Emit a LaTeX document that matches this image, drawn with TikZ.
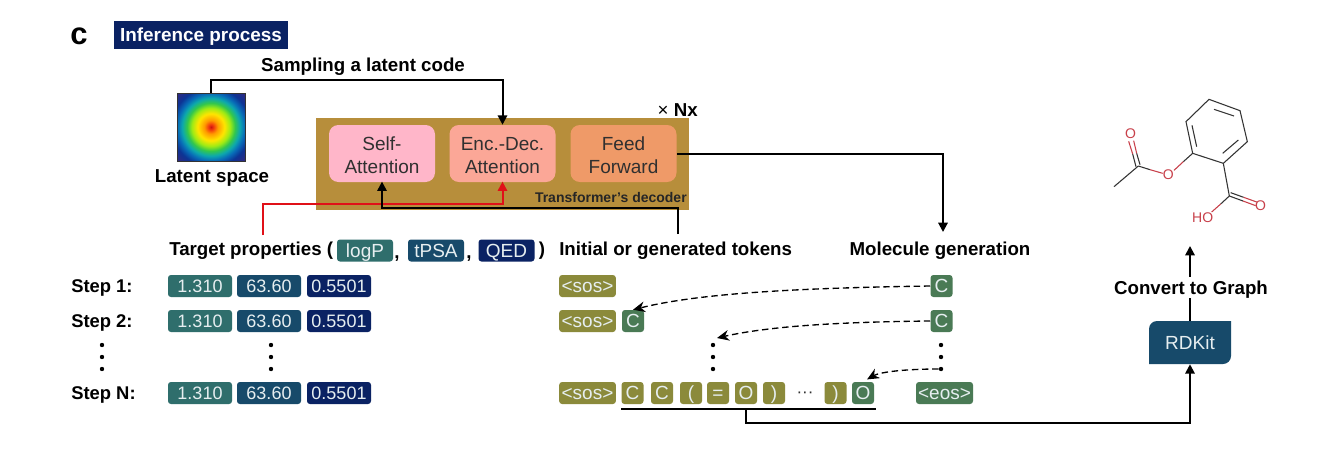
\documentclass[tikz,border=0pt]{standalone}
\usepackage{fontspec}
\setmainfont{Liberation Sans}
\usetikzlibrary{arrows.meta,calc}
\definecolor{navy}{HTML}{0A2263}
\definecolor{teal1}{HTML}{2F6E6C}
\definecolor{blue1}{HTML}{174A6A}
\definecolor{olive1}{HTML}{8B8A3B}
\definecolor{green1}{HTML}{4A7A55}
\definecolor{gold1}{HTML}{B78E3B}
\definecolor{pink1}{HTML}{FFB6C9}
\definecolor{salmon1}{HTML}{FBA797}
\definecolor{orange1}{HTML}{EF9A68}
\definecolor{redl}{HTML}{E01018}
\definecolor{mol}{HTML}{C8404A}
\definecolor{txt}{HTML}{303030}
\definecolor{pilltxt}{HTML}{E6EEF0}
\newcommand{\setpx}[1]{\fontsize{\dimexpr #1pt*3/4\relax}{\dimexpr #1pt*9/10\relax}\selectfont}
\newcommand{\upx}{\rule{0pt}{13pt}}
\pgfdeclareradialshading{jetr}{\pgfpoint{0bp}{0bp}}{%
  rgb(0bp)=(0.80,0.08,0.06);
  rgb(1.5bp)=(0.95,0.25,0.05);
  rgb(3.5bp)=(1,0.60,0);
  rgb(7bp)=(1,0.90,0);
  rgb(10bp)=(0.62,0.92,0.08);
  rgb(12.5bp)=(0.20,0.78,0.30);
  rgb(15bp)=(0.05,0.66,0.68);
  rgb(17.5bp)=(0.03,0.42,0.72);
  rgb(20.5bp)=(0.05,0.20,0.58);
  rgb(25bp)=(0.20,0.16,0.50);
  rgb(50bp)=(0.20,0.16,0.50)}
\tikzset{
  x=0.75pt,y=-0.75pt,
  lbl/.style={font=\setpx{18.7}\bfseries,text=black,inner sep=0pt,text height=10pt,text depth=0pt},
  pill/.style={rounded corners=2.2pt,inner sep=0pt,minimum height=16.5pt,text=pilltxt,font=\setpx{19},text height=10.2pt,text depth=0pt},
  num/.style={pill,font=\setpx{18},text height=9.7pt,minimum width=48pt},
  w22/.style={minimum width=16.5pt},
  w57/.style={minimum width=42.5pt},
  block/.style={rounded corners=7pt,minimum width=79.5pt,minimum height=42.75pt,align=center,text=txt,inner sep=0pt,font=\setpx{19}},
  dotn/.style={circle,fill=black,inner sep=0pt,minimum size=3.3pt},
  conn/.style={draw=black,line width=1.5pt,-{Triangle[length=7pt,width=7pt]}},
  plain/.style={draw=black,line width=1.5pt},
  dash1/.style={draw=black,line width=1pt,dash pattern=on 4.8pt off 2.8pt,-{Stealth[length=9pt,width=8pt]}},
  bond/.style={line width=0.8pt,draw=black!80},
  obond/.style={line width=0.8pt,draw=mol},
}
\begin{document}
\begin{tikzpicture}
\useasboundingbox (0,0) rectangle (1317,450);
\fill[white] (0,0) rectangle (1317,450);
% title
\node[font=\setpx{31}\bfseries,inner sep=0pt] (panel) at (79,36.5) {c};
\node[fill=navy,text=white,font=\setpx{18.9}\bfseries,minimum width=130.5pt,minimum height=21pt,inner sep=0pt,text height=10.2pt,text depth=0pt] (title) at (201,35) {Inference process};
% latent square
\begin{scope}
\clip (177,93) rectangle (245,161);
\shade[shading=jetr] (163,79) rectangle (259,175);
\end{scope}
\node[draw=black!80,line width=0.6pt,minimum size=51pt,inner sep=0pt] (latent) at (211,127) {};
\node[lbl] (latentlbl) at (212,175.5) {Latent space};
\node[lbl] (sampling) at (363,65) {Sampling a latent code};
% decoder
\node[fill=gold1,minimum width=279.75pt,minimum height=69pt,inner sep=0pt] (decoder) at (502.5,164) {};
\node[block,fill=pink1] (self) at (382,153.5) {\upx Self-\\Attention};
\node[block,fill=salmon1] (enc) at (502.5,153.5) {\upx Enc.-Dec.\\Attention};
\node[block,fill=orange1] (feed) at (623.5,153.5) {\upx Feed\\Forward};
\node[font=\setpx{14}\bfseries,text=black!85,inner sep=0pt,anchor=east,text height=7.5pt,text depth=0pt] (declbl) at (687,197.5) {Transformer's decoder};
\node[inner sep=0pt,anchor=east,font=\setpx{18.7},text height=10pt,text depth=0pt] (nx) at (698,109.5) {× \textbf{Nx}};
% headings
\node[lbl,anchor=west] (target) at (169,249) {Target properties (};
\node[pill,fill=teal1,minimum width=42pt] (logp) at (365,250.5) {logP};
\node[lbl] (c1) at (397,252) {,};
\node[pill,fill=blue1,minimum width=42pt] (tpsa) at (436,250.5) {tPSA};
\node[lbl] (c2) at (469,252) {,};
\node[pill,fill=navy,minimum width=42pt] (qed) at (506.5,250.5) {QED};
\node[lbl] (cp) at (542,249) {)};
\node[lbl,anchor=west] (initial) at (559,249) {Initial or generated tokens};
\node[lbl] (molgen) at (940,249) {Molecule generation};
% steps
\foreach \n/\y/\t in {1/286/Step 1:,2/321/Step 2:,N/393/Step N:}{
  \node[lbl,font=\setpx{18.4}\bfseries,anchor=west] (s\n) at (71,\y) {\t};
  \node[num,fill=teal1] (a\n) at (200,\y) {1.310};
  \node[num,fill=blue1] (b\n) at (269,\y) {63.60};
  \node[num,fill=navy] (d\n) at (339,\y) {0.5501};
  \node[pill,fill=olive1,w57] (sos\n) at (587.5,\y) {<sos>};
}
\foreach \x/\k in {102/l,271/m,713/t,941/r}{
  \foreach \y/\j in {345/1,357/2,369/3}{
    \node[dotn] (dot\k\j) at (\x,\y) {};
  }
}
% tokens
\node[pill,fill=green1,w22] (c2t) at (633,321) {C};
\node[pill,fill=green1,w22] (r1) at (941.5,286) {C};
\node[pill,fill=green1,w22] (r2) at (941.5,321) {C};
\node[pill,fill=olive1,w22] (n1) at (632.5,393) {C};
\node[pill,fill=olive1,w22] (n2) at (662,393) {C};
\node[pill,fill=olive1,w22] (n3) at (691,393) {(};
\node[pill,fill=olive1,w22] (n4) at (718,393) {=};
\node[pill,fill=olive1,w22] (n5) at (746,393) {O};
\node[pill,fill=olive1,w22] (n6) at (774,393) {)};
\node[inner sep=0pt,font=\setpx{17},text=txt] (ell) at (805,395) {···};
\node[pill,fill=olive1,w22] (n7) at (835.5,393) {)};
\node[pill,fill=green1,w22] (n8) at (863,393) {O};
\node[pill,fill=green1,minimum width=42.75pt] (eos) at (944.5,393) {<eos>};
% rdkit
\fill[blue1,rounded corners=6pt] (1149,343) -- (1149,321) -- (1190,321) [sharp corners] -- (1231,321) [rounded corners=6pt] -- (1231,364) -- (1190,364) [sharp corners] -- (1149,364) -- cycle;
\node[minimum width=61.5pt,minimum height=32.25pt,inner sep=0pt,text=pilltxt,font=\setpx{19},text height=10.2pt,text depth=0pt] (rdkit) at (1190,342.5) {RDKit};
\coordinate (molbot) at (1190,246);
\draw[conn] (rdkit.north) -- (molbot);
\node[lbl,fill=white,inner ysep=3.2pt,inner xsep=0pt] (conv) at (1191,287.5) {Convert to Graph};
% connectors
\coordinate (redstart) at (263,235);
\coordinate (blackstart) at (678,234);
\coordinate (uline1) at (621,409);
\coordinate (uline2) at (876,409);
\coordinate (drop) at (746,409);
\coordinate (toprow) at (0,80);
\coordinate (redrow) at (0,204);
\coordinate (blackrow) at (0,208);
\coordinate (lowrow) at (0,423);
\coordinate (molarrow) at (943,232);
\draw[conn] (latent.north) |- (enc.north |- toprow) -- (enc.north);
\draw[conn,draw=redl,color=redl,shorten >=-0.5pt] (redstart) |- (enc.south |- redrow) -- (enc.south);
\draw[conn,shorten >=-0.5pt] (blackstart) |- (self.south |- blackrow) -- (self.south);
\draw[conn] (feed.east) -| (molarrow);
\draw[plain] (uline1) -- (uline2);
\draw[conn] (drop) |- (rdkit.south |- lowrow) -- (rdkit.south);
\coordinate (dottend) at (717,338);
\draw[dash1] (r1.west) .. controls (800,288) and (700,293) .. (c2t.north);
\draw[dash1] (r2.west) .. controls (840,322) and (770,326) .. (dottend);
\draw[dash1,shorten >=3.5pt] (dotr3.west) .. controls (905,369) and (880,372) .. (n8.north);
% molecule
\begin{scope}[shift={(1090,90)},x=0.25pt,y=-0.25pt]
\coordinate (r1a) at (357,28);\coordinate (r2a) at (450,62);\coordinate (r3a) at (472,155);
\coordinate (r4a) at (400,220);\coordinate (r5a) at (308,190);\coordinate (r6a) at (288,95);
\draw[bond] (r1a)--(r2a)--(r3a)--(r4a)--(r5a)--(r6a)--cycle;
\draw[bond] (372,58)--(432,78);
\draw[bond] (398,190)--(445,150);
\draw[bond] (320,170)--(306,106);
\draw[bond] (r4a)--(418,318);
\draw[bond] (418,318)--(459,333); \draw[obond] (459,333)--(497,347);
\draw[bond] (422,308)--(461,322); \draw[obond] (461,322)--(500,336);
\draw[bond] (418,318)--(392,342); \draw[obond] (392,342)--(365,366);
\draw[bond] (r5a)--(280,215); \draw[obond] (280,215)--(252,241);
\draw[bond] (145,228)--(180,239); \draw[obond] (180,239)--(218,250);
\draw[bond] (145,228)--(72,290);
\draw[bond] (150,224)--(140,190); \draw[obond] (140,190)--(131,152);
\draw[bond] (138,230)--(128,192); \draw[obond] (128,192)--(116,154);
\node[text=mol,inner sep=0pt,font=\setpx{14}] (oa) at (122,132) {O};
\node[text=mol,inner sep=0pt,font=\setpx{14}] (ob) at (235,255) {O};
\node[text=mol,inner sep=0pt,font=\setpx{14}] (oc) at (512,347) {O};
\node[text=mol,inner sep=0pt,font=\setpx{14}] (oh) at (338,382) {HO};
\end{scope}
\end{tikzpicture}
\end{document}
